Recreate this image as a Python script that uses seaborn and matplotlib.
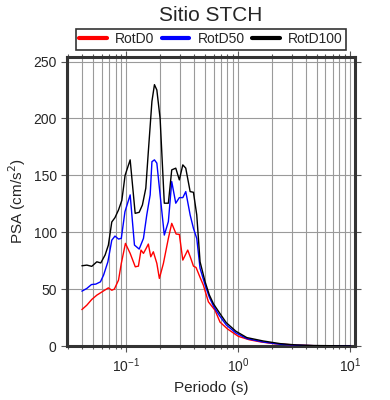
import numpy as np
import pandas as pd
import seaborn as sns
import matplotlib
matplotlib.use('Agg')
import matplotlib.pyplot as plt
from matplotlib.ticker import LogLocator, NullFormatter, MultipleLocator

# Periods (s) and PSA (cm/s2), one pair per series
period_d0 = [0.040, 0.0443, 0.049, 0.0544, 0.0606, 0.069, 0.074, 0.078, 0.085,
             0.090, 0.098, 0.108, 0.120, 0.128, 0.135, 0.142, 0.150, 0.157,
             0.165, 0.174, 0.187, 0.197, 0.214, 0.237, 0.254, 0.278, 0.297,
             0.319, 0.353, 0.376, 0.397, 0.419, 0.455, 0.487, 0.54, 0.619,
             0.686, 0.80, 1.0, 1.25, 1.6, 2.1, 3.3, 4.7, 10.0]
psa_d0 = [32, 35.9, 40.9, 44.7, 47.6, 51.1, 49, 50, 57.9,
          72.6, 90.2, 81.4, 69.6, 70.2, 84.3, 81.4, 85.8, 89.6,
          78.4, 82.8, 72.6, 59.4, 72.6, 94.6, 107.8, 98.4, 98.1,
          75.5, 84.3, 77, 70.2, 69, 60.3, 53.5, 38.8, 31.4,
          21, 15, 8.5, 5.5, 3.5, 2.0, 0.8, 0.3, 0.1]

period_d50 = [0.040, 0.0443, 0.0487, 0.0533, 0.0586, 0.0625, 0.0683, 0.074,
              0.079, 0.085, 0.090, 0.097, 0.108, 0.118, 0.130, 0.142, 0.152,
              0.163, 0.169, 0.178, 0.187, 0.200, 0.218, 0.237, 0.254, 0.276,
              0.297, 0.319, 0.339, 0.371, 0.397, 0.425, 0.455, 0.505, 0.55,
              0.60, 0.68, 0.78, 0.95, 1.19, 1.67, 2.36, 3.3, 4.7, 10.0]
psa_d50 = [48.2, 50.6, 54, 54.4, 56.4, 62.3, 74, 93,
           96.6, 94, 94.6, 118, 132.8, 88.7, 85.2, 94.6, 115.2,
           132.8, 162, 163.6, 160.7, 132.8, 97.5, 109.3, 144.5, 125.5,
           130.4, 130.4, 135.7, 115.2, 103.4, 94.6, 68.2, 53.5, 43,
           35, 26.5, 18.5, 11.5, 6.5, 3.5, 1.5, 0.7, 0.3, 0.1]

period_d100 = [0.040, 0.0443, 0.049, 0.0544, 0.059, 0.0645, 0.069, 0.074,
               0.079, 0.085, 0.091, 0.0973, 0.108, 0.1197, 0.130, 0.139, 0.149,
               0.157, 0.169, 0.178, 0.187, 0.200, 0.218, 0.237, 0.254, 0.276,
               0.297, 0.319, 0.339, 0.371, 0.397, 0.425, 0.455, 0.505, 0.55,
               0.60, 0.68, 0.78, 0.95, 1.19, 1.67, 2.36, 3.3, 4.7, 10.0]
psa_d100 = [70.5, 71.1, 70, 74, 73, 80, 88.7, 109,
            112.8, 119.6, 128, 150, 163.6, 116.6, 117.5, 124, 138.7,
            171, 215, 229.7, 225, 200, 125.5, 125.5, 154.8, 156.3,
            146, 159.2, 156.3, 135.7, 135.1, 115.2, 74, 56.4, 45,
            37, 29, 20.5, 13, 7.4, 4.4, 2.1, 0.9, 0.4, 0.1]

series = ['RotD0', 'RotD50', 'RotD100']
colors = ['red', 'blue', 'black']

df = pd.concat([
    pd.DataFrame({'period': period_d0, 'psa': psa_d0, 'comp': 'RotD0'}),
    pd.DataFrame({'period': period_d50, 'psa': psa_d50, 'comp': 'RotD50'}),
    pd.DataFrame({'period': period_d100, 'psa': psa_d100, 'comp': 'RotD100'}),
])

sns.set_style('ticks')
plt.rcParams['font.family'] = ['Liberation Sans', 'DejaVu Sans']

fig = plt.figure(figsize=(3.9, 4.0), dpi=100)
ax = fig.add_axes([0.172, 0.135, 0.738, 0.7225])

sns.lineplot(data=df, x='period', y='psa', hue='comp', hue_order=series,
             palette=dict(zip(series, colors)), sort=False, estimator=None,
             linewidth=1.0, ax=ax, legend=False, zorder=3)

ax.set_xscale('log')
ax.set_xlim(0.0295, 11.0)
ax.set_ylim(0, 254)

ax.xaxis.set_major_locator(LogLocator(base=10, numticks=10))
ax.xaxis.set_minor_locator(LogLocator(base=10, subs=np.arange(2, 10), numticks=20))
ax.xaxis.set_minor_formatter(NullFormatter())
ax.yaxis.set_major_locator(MultipleLocator(50))

ax.grid(which='both', axis='x', color='#9a9a9a', linewidth=0.8)
ax.grid(which='major', axis='y', color='#9a9a9a', linewidth=0.8)

ax.tick_params(which='major', direction='out', length=4, width=0.8,
               top=True, right=True, labelsize=10, color='#555555')
ax.tick_params(which='minor', direction='out', length=2, width=0.8,
               top=True, right=False, color='#555555')
for s in ax.spines.values():
    s.set_linewidth(2.2)
    s.set_color('#333333')

ax.set_xlabel('Periodo (s)', fontsize=11)
ax.set_ylabel('PSA (cm/s$^2$)', fontsize=11)
ax.set_title('Sitio STCH', fontsize=15, pad=26)

handles = [plt.Line2D([], [], color=c, linewidth=3) for c in colors]
leg = ax.legend(handles, series, ncol=3, loc='lower left',
                bbox_to_anchor=(0.03, 1.025, 0.94, 0.08), mode='expand',
                fontsize=10, frameon=True, fancybox=False, borderaxespad=0,
                handlelength=2.0, handletextpad=0.6, borderpad=0.25,
                columnspacing=1.0)
leg.get_frame().set_edgecolor('black')
leg.get_frame().set_linewidth(1.2)

fig.savefig('out.png', dpi=100)
